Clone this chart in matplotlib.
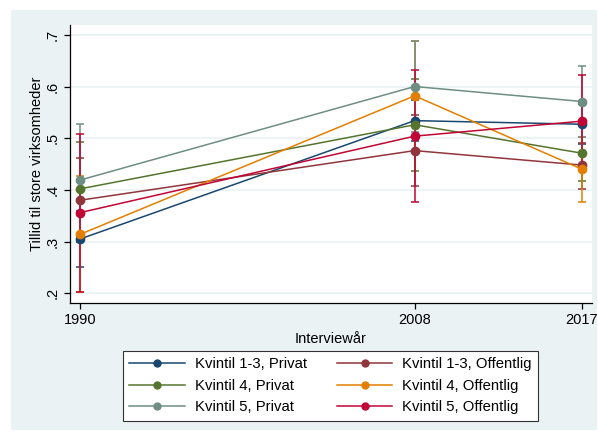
import matplotlib
matplotlib.use("Agg")
import matplotlib.pyplot as plt
from matplotlib.lines import Line2D
from matplotlib.patches import Rectangle

plt.rcParams['font.family'] = ['Liberation Sans', 'DejaVu Sans']

# Survey years
years = [1990, 2008, 2017]

# Series labels and colors (Stata s2color)
labels = ["Kvintil 1-3, Privat", "Kvintil 1-3, Offentlig",
          "Kvintil 4, Privat", "Kvintil 4, Offentlig",
          "Kvintil 5, Privat", "Kvintil 5, Offentlig"]
colors = ["#1a476f", "#90353b", "#55752f", "#e37e00", "#6e8e84", "#c10534"]

# Means per series
k13_priv = [0.305, 0.534, 0.527]
k13_off = [0.380, 0.476, 0.448]
k4_priv = [0.402, 0.526, 0.471]
k4_off = [0.314, 0.582, 0.440]
k5_priv = [0.419, 0.600, 0.571]
k5_off = [0.356, 0.504, 0.533]

# Confidence interval bounds
k13_priv_lo = [0.250, 0.494, 0.488]
k13_priv_hi = [0.360, 0.574, 0.566]
k13_off_lo = [0.299, 0.407, 0.402]
k13_off_hi = [0.461, 0.545, 0.491]
k4_priv_lo = [0.311, 0.437, 0.417]
k4_priv_hi = [0.493, 0.614, 0.525]
k4_off_lo = [0.202, 0.476, 0.376]
k4_off_hi = [0.426, 0.688, 0.503]
k5_priv_lo = [0.310, 0.512, 0.502]
k5_priv_hi = [0.528, 0.688, 0.640]
k5_off_lo = [0.203, 0.376, 0.444]
k5_off_hi = [0.509, 0.632, 0.622]

means = [k13_priv, k13_off, k4_priv, k4_off, k5_priv, k5_off]
lows = [k13_priv_lo, k13_off_lo, k4_priv_lo, k4_off_lo, k5_priv_lo, k5_off_lo]
highs = [k13_priv_hi, k13_off_hi, k4_priv_hi, k4_off_hi, k5_priv_hi, k5_off_hi]

W, H = 598, 432
bg = "#eaf2f3"
fig = plt.figure(figsize=(W / 100, H / 100), dpi=100, facecolor="white")
# light graph region inside a thin white border
fig.patches.append(Rectangle((11 / W, 2 / H), 586 / W, 420 / H,
                             transform=fig.transFigure, facecolor=bg,
                             edgecolor="none", zorder=-10))

ax = fig.add_axes([70 / W, 1 - 303 / H, 522 / W, 278 / H])
ax.set_zorder(1)
ax.set_facecolor("white")

# Confidence intervals first
for m, lo, hi, c in zip(means, lows, highs, colors):
    yerr = [[a - b for a, b in zip(m, lo)], [b - a for a, b in zip(m, hi)]]
    ax.errorbar(years, m, yerr=yerr, fmt="none", ecolor=c, elinewidth=1.1,
                capsize=3, capthick=1.1, zorder=2)

# Connected lines with markers
for m, c, lab in zip(means, colors, labels):
    ax.plot(years, m, color=c, lw=1.1, marker="o", markersize=6, label=lab, zorder=3)

ax.set_xlim(1989.46, 2017.54)
ax.set_ylim(0.1812, 0.719)
ax.set_xticks(years)
ax.set_xticklabels([str(y) for y in years], fontsize=10.5)
yt = [0.2, 0.3, 0.4, 0.5, 0.6, 0.7]
ax.set_yticks(yt)
ax.set_yticklabels([".2", ".3", ".4", ".5", ".6", ".7"], fontsize=10.5,
                   rotation=90, va="center")
ax.grid(axis="y", color=bg, lw=1.2)
ax.set_axisbelow(True)
for s in ["top", "right"]:
    ax.spines[s].set_visible(False)
for s in ["left", "bottom"]:
    ax.spines[s].set_color("black")
    ax.spines[s].set_linewidth(0.9)
ax.tick_params(direction="out", length=4, width=0.9, colors="black")

ax.set_xlabel("Interviewår", fontsize=10.5, labelpad=3)
ax.set_ylabel("Tillid til store virksomheder", fontsize=10.5, labelpad=1)

# Legend ordered row-wise in 2 columns
order = [0, 2, 4, 1, 3, 5]
handles = [Line2D([0], [0], color=colors[i], lw=1.1, marker="o", markersize=5)
           for i in order]
leg = fig.legend(handles, [labels[i] for i in order], ncol=2,
                 loc="lower center", bbox_to_anchor=(330.5 / W, 11 / H),
                 fontsize=10.7, frameon=True, fancybox=False, edgecolor="#333333",
                 facecolor="white", framealpha=1,
                 handlelength=3.75, columnspacing=2.0, labelspacing=0.5,
                 borderpad=0.45, handletextpad=0.65, borderaxespad=0)
leg.get_frame().set_linewidth(0.8)

fig.savefig("out.png", dpi=100, facecolor="white")
